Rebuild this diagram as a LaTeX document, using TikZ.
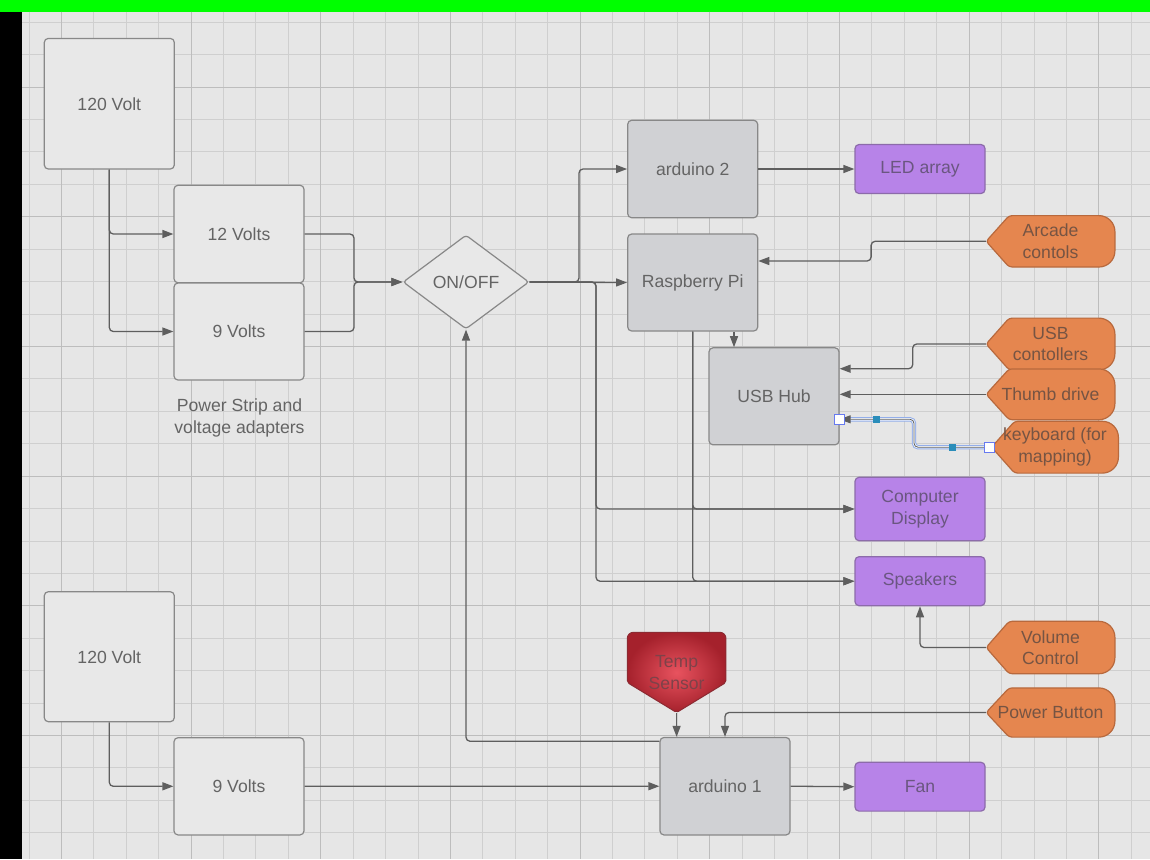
\documentclass[tikz,border=0pt]{standalone}
\usepackage{fontspec}
\setmainfont{Liberation Sans}
\usetikzlibrary{arrows.meta,shapes.geometric,calc}
\definecolor{scrgreen}{HTML}{00FF00}
\definecolor{paper}{HTML}{E6E6E6}
\definecolor{gridminor}{HTML}{CFCFCF}
\definecolor{gridmajor}{HTML}{BDBDBD}
\definecolor{edge}{HTML}{888888}
\definecolor{plain}{HTML}{E8E8E8}
\definecolor{unitfill}{HTML}{D0D1D4}
\definecolor{boxtext}{HTML}{646464}
\definecolor{outfill}{HTML}{B783E8}
\definecolor{outline}{HTML}{8C6BAA}
\definecolor{outtext}{HTML}{6A5680}
\definecolor{tagfill}{HTML}{E5864F}
\definecolor{tagline}{HTML}{B8693D}
\definecolor{tagtext}{HTML}{765443}
\definecolor{wirec}{HTML}{5E5E5E}
\definecolor{tempin}{HTML}{E8535F}
\definecolor{tempout}{HTML}{A5212C}
\definecolor{templine}{HTML}{8C2A32}
\definecolor{temptext}{HTML}{7E4249}
\definecolor{selhalo}{HTML}{93AEEA}
\definecolor{selmark}{HTML}{2A8DBA}
\pgfdeclarelayer{paperlayer}
\pgfdeclarelayer{shapes}
\pgfsetlayers{paperlayer,shapes,main}
\newcommand{\boxfont}{\fontsize{8.8pt}{10.8pt}\selectfont}
\tikzset{
  box/.style={rectangle, rounded corners=2pt, draw=edge, line width=0.6pt,
    font=\boxfont, align=center, inner sep=1pt},
  plainbox/.style={box, fill=plain, text=boxtext, minimum width=65pt,
    minimum height=48.75pt},
  unit/.style={box, fill=unitfill, text=boxtext, minimum width=65pt,
    minimum height=48.75pt},
  outbox/.style={box, fill=outfill, draw=outline, text=outtext,
    minimum width=65pt, minimum height=24.5pt},
  tag/.style={rectangle, inner sep=0pt, minimum width=64pt,
    minimum height=25.5pt, text=tagtext, font=\boxfont, align=center},
  wire/.style={draw=wirec, line width=0.65pt, rounded corners=2pt,
    -{Triangle[length=5.5pt, width=4pt]}},
  picked/.style={draw=selhalo, double=white!92!selhalo, double distance=1.2pt,
    line width=0.5pt, rounded corners=2pt},
  grip/.style={draw=selhalo!70!blue, fill=white, line width=0.5pt,
    minimum size=5pt, inner sep=0pt},
  knob/.style={fill=selmark, minimum size=3.5pt, inner sep=0pt},
}
% left-pointing tag with a rounded back end
\newcommand{\tagshape}[1]{%
  \filldraw[fill=tagfill, draw=tagline, line width=0.6pt]
    (#1.west) [rounded corners=1.5pt] -- ([xshift=11.5pt]#1.north west)
    [rounded corners=8pt] -- (#1.north east) -- (#1.south east)
    [rounded corners=1.5pt] -- ([xshift=11.5pt]#1.south west) -- cycle;}
% down-pointing sensor badge
\newcommand{\sensorshape}[1]{%
  \shadedraw[inner color=tempin, outer color=tempout, draw=templine,
      line width=0.5pt]
    (#1.south) [rounded corners=1pt] -- ([yshift=15pt]#1.south west)
    [rounded corners=3pt] -- (#1.north west) -- (#1.north east)
    [rounded corners=1pt] -- ([yshift=15pt]#1.south east) -- cycle;}

\begin{document}
\begin{tikzpicture}[x=0.5pt, y=-0.5pt]
\useasboundingbox (0,0) rectangle (1150,859);

%% ---- screen frame and grid paper ---------------------------------------
\begin{pgfonlayer}{paperlayer}
\fill[scrgreen] (0,0) rectangle (1150,11.5);
\fill[black] (0,11.5) rectangle (22,859);
\fill[paper] (22,11.5) rectangle (1150,859);
\foreach \k in {0,...,34}
  \draw[gridminor, line width=0.5pt] ({29+32.42*\k},11.5) -- ({29+32.42*\k},859);
\foreach \m in {0,...,25}
  \draw[gridminor, line width=0.5pt] (22,{22.3+32.42*\m}) -- (1150,{22.3+32.42*\m});
\foreach \k in {1,5,...,33}
  \draw[gridmajor, line width=0.6pt] ({29+32.42*\k},11.5) -- ({29+32.42*\k},859);
\foreach \m in {2,6,...,22}
  \draw[gridmajor, line width=0.6pt] (22,{22.3+32.42*\m}) -- (1150,{22.3+32.42*\m});
\end{pgfonlayer}

%% ---- power strip -------------------------------------------------------
\node[plainbox, minimum height=65.3pt] (mainsA) at (109.3,103.7) {120 Volt};
\node[plainbox] (twelveV) at (239,234) {12 Volts};
\node[plainbox, minimum height=48.5pt] (nineA) at (239,331.5) {9 Volts};
\node[text=boxtext, font=\boxfont, align=center] (strip) at (239.5,418)
  {Power Strip and\\voltage adapters};
\node[diamond, draw=edge, fill=plain, line width=0.6pt, rounded corners=1.5pt,
  minimum width=63pt, minimum height=47pt, inner sep=0pt, text=boxtext,
  font=\boxfont] (onoff) at (466,282) {ON/OFF};

%% ---- controllers and outputs -------------------------------------------
\node[unit] (ardtwo) at (692.7,169) {arduino 2};
\node[unit, minimum height=48.5pt] (rpi) at (692.7,282.5) {Raspberry Pi};
\node[unit, minimum height=48.5pt] (hub) at (774,396.3) {USB Hub};
\node[outbox] (leds) at (920,169) {LED array};
\node[outbox, minimum height=31.7pt] (display) at (920,509) {Computer\\Display};
\node[outbox] (speakers) at (920,581.2) {Speakers};

\node[tag, minimum height=25.3pt] (arcade) at (1050.5,241.3) {Arcade\\contols};
\node[tag] (usbpad) at (1050.5,344) {USB\\contollers};
\node[tag, minimum height=25pt] (thumb) at (1050.5,394.3) {Thumb drive};
\node[tag, minimum width=63pt] (keyb) at (1055,447.2) {keyboard (for\\mapping)};
\node[tag, minimum height=25.8pt] (volume) at (1050.5,647.5) {Volume\\Control};
\node[tag, minimum height=24.2pt] (power) at (1050.5,712.5) {Power Button};

%% ---- fan loop ----------------------------------------------------------
\node[plainbox, minimum height=65pt] (mainsB) at (109.3,656.7) {120 Volt};
\node[plainbox, minimum height=48.6pt] (nineB) at (239,786.3) {9 Volts};
\node[unit] (ardone) at (725,786.2) {arduino 1};
\node[outbox, minimum height=24.4pt] (fan) at (920,786.7) {Fan};
\node[rectangle, inner sep=0pt, minimum width=48.9pt, minimum height=39.7pt,
  text=temptext, font=\boxfont, align=center, anchor=north]
  (temp) at (676.6,632.3) {Temp\\Sensor};

\begin{pgfonlayer}{shapes}
\foreach \n in {arcade,usbpad,thumb,keyb,volume,power} {
  \tagshape{\n}
}
\sensorshape{temp}
\end{pgfonlayer}

%% ---- wiring ------------------------------------------------------------
\coordinate (merge) at (354,282);
\coordinate (tapA) at (579,282);
\coordinate (tapB) at (596,282);
\coordinate (hubin) at ([xshift=-20pt]hub.north);
\coordinate (rpiin) at ([yshift=10.75pt]rpi.east);
\coordinate (hubA) at ([yshift=13.8pt]hub.east);
\coordinate (hubC) at ([yshift=-11.5pt]hub.east);
\coordinate (ardout) at ([yshift=-2.2pt]ardone.north west);
\coordinate (kbend) at (914,447.2);

\draw[wire] (mainsA.south) |- (twelveV.west);
\draw[wire] (mainsA.south) |- (nineA.west);
\draw[wire] (twelveV.east) -| (merge) -- (onoff.west);
\draw[wire] (nineA.east) -| (merge) -- (onoff.west);

\draw[wire] (onoff.east) -- (tapA) |- (ardtwo.west);
\draw[wire] (onoff.east) -- (rpi.west);
\draw[wire] (onoff.east) -- (tapB) |- (display.west);
\draw[wire] (onoff.east) -- (tapB) |- (speakers.west);
\draw[wire] (rpi.south) |- (display.west);
\draw[wire] (rpi.south) |- (speakers.west);
\draw[wire] (hubin |- rpi.south) -- (hubin);
\draw[wire] (ardtwo.east) -- (leds.west);

\draw[wire] (arcade.west) -- ++(-115,0) |- (rpiin);
\draw[wire] (usbpad.west) -- ++(-73.4,0) |- (hubA);
\draw[wire] (thumb.west) -- (thumb.west -| hub.east);
% keyboard link is shown picked, with its handles
\draw[picked] (keyb.west) -- (kbend) |- (hubC);
\draw[wire, line width=0.4pt] (keyb.west) -- (kbend) |- (hubC);
\node[grip] (gripA) at (hubC) {};
\node[grip] (gripB) at ([xshift=-1pt]keyb.west) {};
\node[knob] (knobA) at ($(hubC)!0.5!(hubC -| kbend)$) {};
\node[knob] (knobB) at ($(keyb.west)!0.5!(kbend)$) {};

\draw[wire] (volume.west) -| (speakers.south);
\draw[wire] (power.west) -| (ardone.north);
\draw[wire] (temp.south) -- (temp.south |- ardone.north);
\draw[wire] (ardout) -| (onoff.south);

\draw[wire] (mainsB.south) |- (nineB.west);
\draw[wire] (nineB.east) -- (ardone.west);
\draw[wire] (ardone.east) -- (fan.west);

\end{tikzpicture}
\end{document}
